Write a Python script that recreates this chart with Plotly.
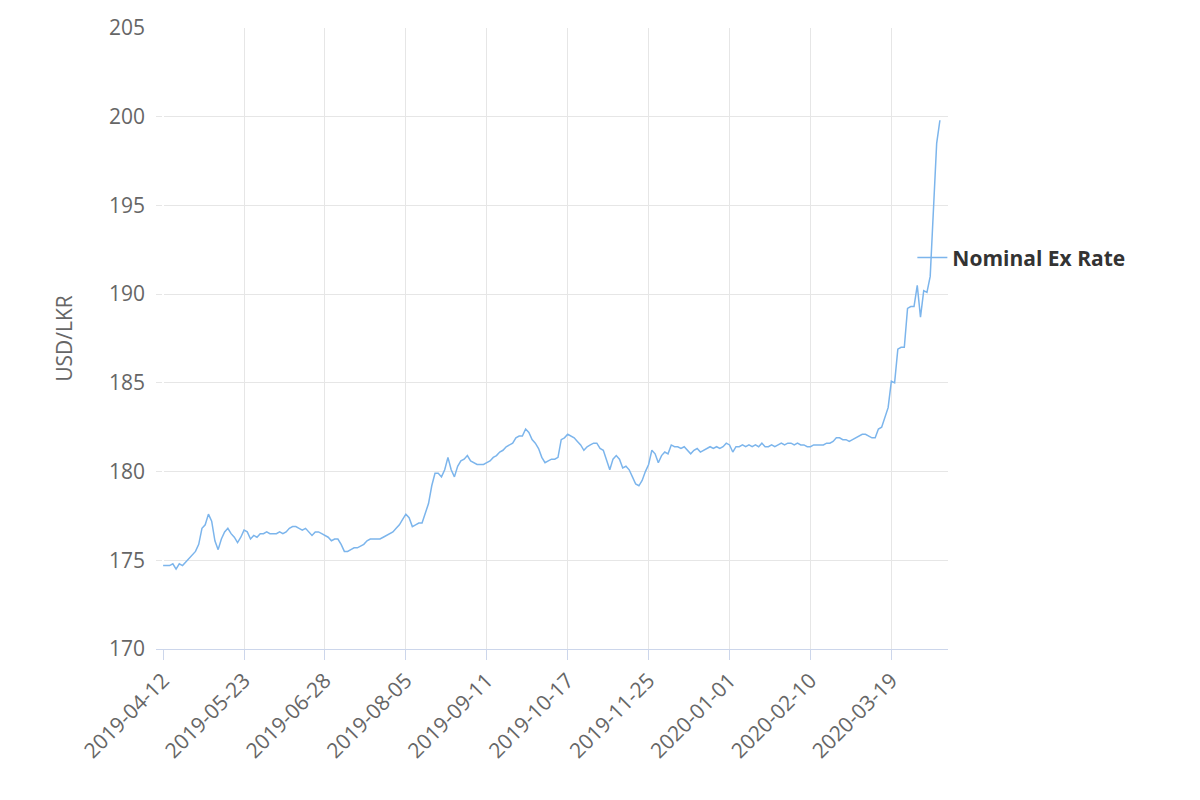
import plotly.graph_objects as go

tick_labels = ["2019-04-12", "2019-05-23", "2019-06-28", "2019-08-05", "2019-09-11",
               "2019-10-17", "2019-11-25", "2020-01-01", "2020-02-10", "2020-03-19"]
tick_step = 25

rate = [
    174.7, 174.7, 174.7, 174.8, 174.5, 174.8, 174.7, 174.9, 175.1, 175.3, 175.5, 175.9, 176.8,
    177.0, 177.6, 177.2, 176.1, 175.6, 176.2, 176.6, 176.8, 176.5, 176.3, 176.0, 176.3,
    176.7, 176.6, 176.2, 176.4, 176.3, 176.5, 176.5, 176.6, 176.5, 176.5, 176.5, 176.6, 176.5,
    176.6, 176.8, 176.9, 176.9, 176.8, 176.7, 176.8, 176.6, 176.4, 176.6, 176.6, 176.5,
    176.4, 176.3, 176.1, 176.2, 176.2, 175.9, 175.5, 175.5, 175.6, 175.7, 175.7, 175.8, 175.9,
    176.1, 176.2, 176.2, 176.2, 176.2, 176.3, 176.4, 176.5, 176.6, 176.8, 177.0, 177.3,
    177.6, 177.4, 176.9, 177.0, 177.1, 177.1, 177.6, 178.2, 179.2, 179.9, 179.9, 179.7, 180.1,
    180.8, 180.1, 179.7, 180.3, 180.6, 180.7, 180.9, 180.6, 180.5, 180.4, 180.4, 180.4,
    180.5, 180.6, 180.8, 180.9, 181.1, 181.2, 181.4, 181.5, 181.6, 181.9, 182.0, 182.0, 182.4,
    182.2, 181.8, 181.6, 181.3, 180.8, 180.5, 180.6, 180.7, 180.7, 180.8, 181.8, 181.9,
    182.1, 182.0, 181.9, 181.7, 181.5, 181.2, 181.4, 181.5, 181.6, 181.6, 181.3, 181.2, 180.6,
    180.1, 180.7, 180.9, 180.7, 180.2, 180.3, 180.1, 179.7, 179.3, 179.2, 179.5, 180.0,
    180.4, 181.2, 181.0, 180.5, 180.9, 181.1, 181.0, 181.5, 181.4, 181.4, 181.3, 181.4, 181.2,
    181.0, 181.2, 181.3, 181.1, 181.2, 181.3, 181.4, 181.3, 181.4, 181.3, 181.4, 181.6,
    181.5, 181.1, 181.4, 181.4, 181.5, 181.4, 181.5, 181.4, 181.5, 181.4, 181.6, 181.4, 181.4,
    181.5, 181.4, 181.5, 181.6, 181.5, 181.6, 181.6, 181.5, 181.6, 181.5, 181.5, 181.4,
    181.4, 181.5, 181.5, 181.5, 181.5, 181.6, 181.6, 181.7, 181.9, 181.9, 181.8, 181.8, 181.7,
    181.8, 181.9, 182.0, 182.1, 182.1, 182.0, 181.9, 181.9, 182.4, 182.5, 183.0, 183.6,
    185.1, 185.0, 186.9, 187.0, 187.0, 189.2, 189.3, 189.3, 190.5, 188.7, 190.2, 190.1,
    191.0, 195.0, 198.5, 199.8,
]

fig = go.Figure(go.Scatter(
    x=list(range(len(rate))), y=rate, mode="lines", name="Nominal Ex Rate",
    line=dict(color="#7cb5ec", width=1.5), showlegend=True,
))

grey = "#666666"
fig.update_layout(
    width=1200, height=800,
    plot_bgcolor="white", paper_bgcolor="white",
    font=dict(family="Open Sans, DejaVu Sans, sans-serif", color=grey),
    margin=dict(l=148, r=260, t=20, b=159),
    xaxis=dict(
        range=[-2.2, len(rate) + 1.5], automargin=False,
        tickvals=[i * tick_step for i in range(len(tick_labels))],
        ticktext=tick_labels, tickangle=-45,
        tickfont=dict(size=21, color=grey),
        showgrid=True, gridcolor="#e6e6e6",
        showline=True, linecolor="#ccd6eb",
        ticks="outside", tickcolor="#ccd6eb", ticklen=10,
    ),
    yaxis=dict(
        range=[170, 205], dtick=5, automargin=False,
        title=dict(text="USD/LKR", font=dict(size=21, color=grey), standoff=30),
        tickfont=dict(size=21, color=grey), ticklabelstandoff=10,
        showgrid=True, gridcolor="#e6e6e6", zeroline=False,
    ),
    legend=dict(
        x=0.955, y=0.63, xanchor="left", yanchor="middle",
        font=dict(size=21, color="#333333", weight="bold"), bgcolor="rgba(0,0,0,0)",
    ),
)

fig.write_html("out.html")
